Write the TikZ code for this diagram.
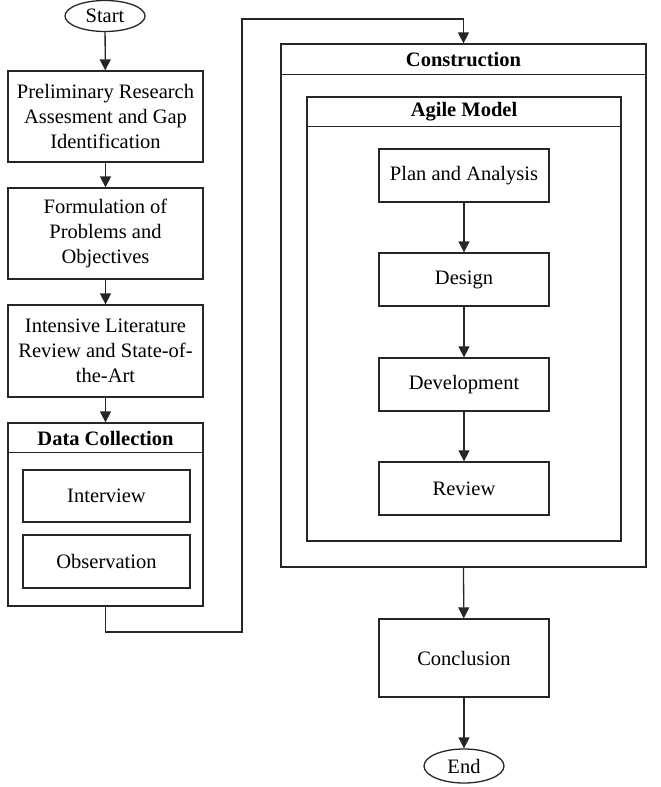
\documentclass[tikz,border=0pt]{standalone}
\usepackage{fontspec}
\setmainfont{Liberation Serif}
\usetikzlibrary{arrows.meta,shapes.geometric}
\begin{document}
\begin{tikzpicture}[x=1pt,y=-1pt,
  every node/.style={font=\fontsize{20.5}{25}\selectfont, text=black},
  line/.style={draw=black!85, line width=1.3pt},
  box/.style={line, rectangle, inner sep=2pt, align=center},
  oval/.style={line, ellipse, inner sep=0pt, minimum width=80pt, minimum height=31pt},
  hdr/.style={font=\fontsize{20.5}{25}\selectfont\bfseries},
  arr/.style={line, -{Triangle[width=11pt,length=11pt]}}
]
\useasboundingbox (0,0) rectangle (661,787);

% left column
\node[oval] (start) at (105,16) {Start};
\node[box, minimum width=195pt, minimum height=91pt] (b1) at (105.5,116.5)
  {Preliminary Research\\Assesment and Gap\\Identification};
\node[box, minimum width=195pt, minimum height=91pt] (b2) at (105.5,233.5)
  {Formulation of\\Problems and\\Objectives};
\node[box, minimum width=195pt, minimum height=92pt] (b3) at (105.5,351)
  {Intensive Literature\\Review and State-of-\\the-Art};
\node[box, minimum width=195pt, minimum height=183pt] (dc) at (105.5,514.5) {};
\draw[line] ([yshift=-30pt]dc.north west) -- ([yshift=-30pt]dc.north east);
\node[hdr] (dct) at (105.5,438) {Data Collection};
\node[box, minimum width=167pt, minimum height=52pt] (iv) at (106.5,496) {Interview};
\node[box, minimum width=167pt, minimum height=53pt] (ob) at (106.5,561.5) {Observation};

% right column
\node[box, minimum width=365pt, minimum height=523pt] (con) at (463.5,305.5) {};
\draw[line] ([yshift=-31pt]con.north west) -- ([yshift=-31pt]con.north east);
\node[hdr] (cont) at (463.5,60) {Construction};
\node[box, minimum width=314pt, minimum height=444pt] (ag) at (464,319) {};
\draw[line] ([yshift=-30pt]ag.north west) -- ([yshift=-30pt]ag.north east);
\node[hdr] (agt) at (464,112) {Agile Model};
\node[box, minimum width=170pt, minimum height=53pt] (pa) at (464,175.5) {Plan and Analysis};
\node[box, minimum width=170pt, minimum height=53pt] (de) at (464,279.5) {Design};
\node[box, minimum width=170pt, minimum height=53pt] (dv) at (464,384.5) {Development};
\node[box, minimum width=170pt, minimum height=53pt] (rv) at (464,488.5) {Review};
\node[box, minimum width=170pt, minimum height=78pt] (cc) at (464,658) {Conclusion};
\node[oval, minimum height=34pt] (end) at (464,766) {End};

% connectors
\draw[arr] (start) -- (b1);
\draw[arr] (b1) -- (b2);
\draw[arr] (b2) -- (b3);
\draw[arr] (b3) -- (dc);
\coordinate (k1) at (242,632);
\coordinate (k2) at (242,19);
\draw[arr] (dc.south) |- (k1) -- (k2) -| (con.north);
\draw[arr] (pa) -- (de);
\draw[arr] (de) -- (dv);
\draw[arr] (dv) -- (rv);
\draw[arr] (con.south) -- (cc);
\draw[arr] (cc) -- (end);
\end{tikzpicture}
\end{document}
